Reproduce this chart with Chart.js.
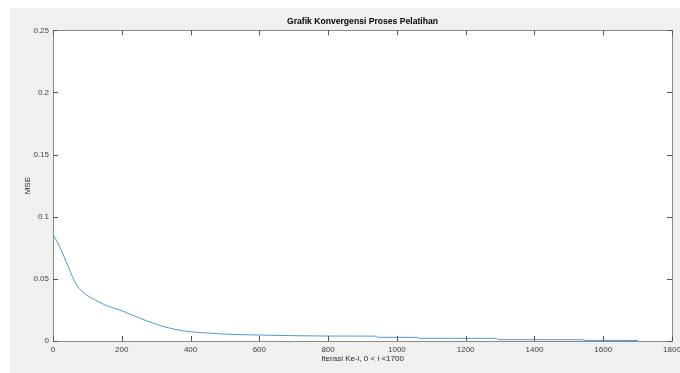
<!DOCTYPE html>
<html>
<head>
<meta charset="utf-8">
<script src="https://cdn.jsdelivr.net/npm/chart.js@4/dist/chart.umd.min.js"></script>
<style>
html,body{margin:0;padding:0;background:#ffffff;}
#wrap{width:680px;height:373px;position:relative;}
</style>
</head>
<body>
<div id="wrap"><canvas id="c" width="680" height="373"></canvas></div>
<script>
// ---- data ----
// first iteration (large initial error, drops immediately)
const startIterations = [0, 1];
const startMse = [0.201, 0.0855];
// rest of the training curve
const iterations = [1, 20, 44, 69, 98, 132, 156, 194, 253, 301, 349, 398, 446, 494, 601, 697, 794, 940, 945, 1060, 1065, 1289, 1295, 1540, 1545, 1700];
const mseValues  = [0.0855, 0.0755, 0.060, 0.045, 0.037, 0.0317, 0.0284, 0.025, 0.0183, 0.0134, 0.0097, 0.0075, 0.0065, 0.0056, 0.0048, 0.0043, 0.0040, 0.0039, 0.0030, 0.0029, 0.0022, 0.0021, 0.0011, 0.0010, 0.0005, 0.0004];
const xTicks = [0, 200, 400, 600, 800, 1000, 1200, 1400, 1600, 1800];
const yTicks = [0, 0.05, 0.1, 0.15, 0.2, 0.25];
const chartTitle = 'Grafik Konvergensi Proses Pelatihan';
const xTitle = 'Iterasi Ke-i, 0 < i <1700';
const yTitle = 'MSE';

const toPts = (xs, ys) => xs.map((x, i) => ({x: x, y: ys[i]}));

const FONT = 'Liberation Sans, Arial, Helvetica, sans-serif';
const LINE = '#4d9bd6';

const frame = {
  id: 'frame',
  beforeDraw(chart) {
    const ctx = chart.ctx, a = chart.chartArea;
    ctx.save();
    ctx.fillStyle = '#ffffff';
    ctx.fillRect(0, 0, chart.width, chart.height);
    ctx.fillStyle = '#f0f0f0';
    ctx.fillRect(10, 8, chart.width - 10, chart.height - 8);
    ctx.fillStyle = '#ffffff';
    ctx.fillRect(a.left, a.top, a.right - a.left, a.bottom - a.top);
    ctx.restore();
  },
  afterDatasetsDraw(chart) {
    const ctx = chart.ctx, a = chart.chartArea;
    const xs = chart.scales.x, ys = chart.scales.y;
    ctx.save();
    ctx.strokeStyle = '#8a8a8a';
    ctx.lineWidth = 1;
    ctx.strokeRect(Math.round(a.left) + 0.5, Math.round(a.top) + 0.5, Math.round(a.right - a.left), Math.round(a.bottom - a.top));
    ctx.strokeStyle = '#555555';
    ctx.beginPath();
    const tl = 5;
    xs.ticks.forEach(t => {
      const px = Math.round(xs.getPixelForValue(t.value)) + 0.5;
      ctx.moveTo(px, a.bottom); ctx.lineTo(px, a.bottom - tl);
      ctx.moveTo(px, a.top); ctx.lineTo(px, a.top + tl);
    });
    ys.ticks.forEach(t => {
      const py = Math.round(ys.getPixelForValue(t.value)) + 0.5;
      ctx.moveTo(a.left, py); ctx.lineTo(a.left + tl, py);
      ctx.moveTo(a.right, py); ctx.lineTo(a.right - tl, py);
    });
    ctx.stroke();
    ctx.restore();
  }
};

new Chart(document.getElementById('c'), {
  type: 'scatter',
  data: {
    datasets: [{
      data: toPts(startIterations, startMse),
      showLine: true,
      borderColor: LINE,
      borderWidth: 1,
      pointRadius: 0,
      tension: 0,
      fill: false
    }, {
      data: toPts(iterations, mseValues),
      showLine: true,
      borderColor: LINE,
      borderWidth: 1,
      pointRadius: 0,
      cubicInterpolationMode: 'monotone',
      fill: false
    }]
  },
  options: {
    responsive: false,
    animation: false,
    layout: {padding: {top: 0, left: 0, right: 8, bottom: 0}},
    plugins: {
      legend: {display: false},
      tooltip: {enabled: false},
      title: {
        display: true,
        text: chartTitle,
        fullSize: false,
        color: '#000000',
        font: {family: FONT, size: 8.6, weight: 'bold'},
        padding: {top: 16, bottom: 4}
      }
    },
    scales: {
      x: {
        type: 'linear',
        min: 0, max: 1800,
        afterBuildTicks(s) { s.ticks = xTicks.map(v => ({value: v})); },
        afterFit(s) { s.height = 32; s.paddingLeft = 0; s.paddingRight = 0; },
        grid: {display: false, drawTicks: false},
        border: {display: false},
        ticks: {
          color: '#404040', padding: 4, maxRotation: 0, autoSkip: false,
          font: {family: FONT, size: 8},
          callback: v => String(v)
        },
        title: {
          display: true, text: xTitle, color: '#262626',
          font: {family: FONT, size: 8},
          padding: {top: 0, bottom: 9}
        }
      },
      y: {
        type: 'linear',
        min: 0, max: 0.25,
        afterBuildTicks(s) { s.ticks = yTicks.map(v => ({value: v})); },
        afterFit(s) { s.width = 53; s.paddingTop = 0; s.paddingBottom = 0; },
        grid: {display: false, drawTicks: false},
        border: {display: false},
        ticks: {
          color: '#404040', padding: 4, autoSkip: false,
          font: {family: FONT, size: 8},
          callback: v => String(v)
        },
        title: {
          display: true, text: yTitle, color: '#262626',
          font: {family: FONT, size: 8},
          padding: {top: 23, bottom: 0}
        }
      }
    }
  },
  plugins: [frame]
});
</script>
</body>
</html>
